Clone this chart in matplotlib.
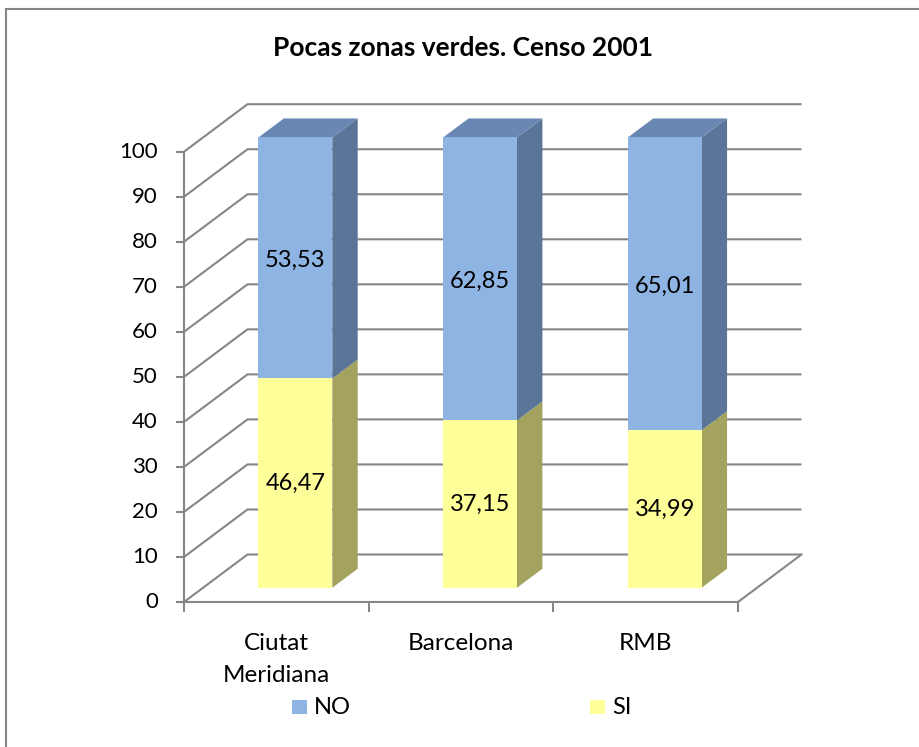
import matplotlib
matplotlib.use("Agg")
import matplotlib.pyplot as plt
from matplotlib.patches import Polygon, Rectangle

plt.rcParams['font.family'] = ['Lato', 'DejaVu Sans']

title = "Pocas zonas verdes. Censo 2001"
categories = ["Ciutat\nMeridiana", "Barcelona", "RMB"]
si_values = [46.47, 37.15, 34.99]
no_values = [53.53, 62.85, 65.01]
y_ticks = [0, 10, 20, 30, 40, 50, 60, 70, 80, 90, 100]
series_names = ["NO", "SI"]

# colours
no_front, no_side, no_top = "#8EB4E3", "#5B7598", "#6A87B3"
si_front, si_side = "#FFFF99", "#A3A35F"
grid_col = "#868686"

W, H = 920, 747
fig = plt.figure(figsize=(W / 100, H / 100), dpi=100)
ax = fig.add_axes([0, 0, 1, 1])
ax.axis("off")

# geometry (pixel layout of the pseudo 3D plot area)
x0_px, x3_px = 184.0, 738.0
y0_px, y100_px = 602.0, 151.7
ppu_x = (x3_px - x0_px) / 3
ppu_y = (y0_px - y100_px) / 100
ax.set_xlim(-x0_px / ppu_x, (W - x0_px) / ppu_x)
ax.set_ylim((y0_px - H) / ppu_y, y0_px / ppu_y)

DU = 63.5 / ppu_x      # full depth offset in x (category units)
DV = 47.5 / ppu_y      # full depth offset in y (value units)
ymax = 100
ncat = len(categories)

def off(x, y, f):
    return (x + f * DU, y + f * DV)

lw = 1.5
# gridlines: left wall diagonal + back wall horizontal
for v in y_ticks:
    p1 = (0, v)
    p2 = off(0, v, 1)
    p3 = off(ncat, v, 1)
    ax.plot([p1[0], p2[0], p3[0]], [p1[1], p2[1], p3[1]], color=grid_col, lw=lw,
            solid_capstyle="butt", zorder=1)
    # y tick marks
    ax.plot([-7 / ppu_x, 0], [v, v], color=grid_col, lw=lw, zorder=1)
    ax.text(-26 / ppu_x, v, str(v), ha="right", va="center", fontsize=16, color="black")

# floor: front edge and right diagonal
fr = off(ncat, 0, 1)
ax.plot([0, ncat, fr[0]], [0, 0, fr[1]], color=grid_col, lw=lw, zorder=1)
# vertical axis
ax.plot([0, 0], [-9 / ppu_y, ymax], color=grid_col, lw=lw, zorder=1)
# category tick marks
for i in range(1, ncat + 1):
    ax.plot([i, i], [0, -9 / ppu_y], color=grid_col, lw=lw, zorder=1)

# bars
f1, f2 = 0.3, 0.7
bw = 0.4
for i, (s, n) in enumerate(zip(si_values, no_values)):
    xl = i + 0.5 - bw / 2
    xr = i + 0.5 + bw / 2
    segs = [(0, s, si_front, si_side), (s, s + n, no_front, no_side)]
    for (b, t, fc, sc) in segs:
        fl = off(xl, b, f1); frb = off(xr, b, f1); frt = off(xr, t, f1); flt = off(xl, t, f1)
        # side face
        bb = off(xr, b, f2); bt = off(xr, t, f2)
        ax.add_patch(Polygon([frb, bb, bt, frt], closed=True, facecolor=sc,
                             edgecolor="none", zorder=3))
        ax.add_patch(Polygon([fl, frb, frt, flt], closed=True, facecolor=fc,
                             edgecolor="none", zorder=4))
    top = s + n
    ax.add_patch(Polygon([off(xl, top, f1), off(xr, top, f1), off(xr, top, f2), off(xl, top, f2)],
                         closed=True, facecolor=no_top, edgecolor="none", zorder=3))
    cx, _ = off(i + 0.5, 0, f1)
    ax.text(cx, s / 2 + f1 * DV, f"{s:.2f}".replace(".", ","), ha="center", va="center",
            fontsize=17, zorder=5)
    ax.text(cx, s + n / 2 + f1 * DV - 0.6, f"{n:.2f}".replace(".", ","), ha="center", va="center",
            fontsize=17, zorder=5)

# category labels
for i, c in enumerate(categories):
    ax.text(i + 0.5, -31 / ppu_y, c, ha="center", va="top", fontsize=17.5, linespacing=1.65)

# title
fig.text(463 / W, 1 - 48 / H, title, ha="center", va="center", fontsize=19, fontweight="bold")

# legend
for (name, col, xs) in [("NO", no_front, 292), ("SI", si_front, 590)]:
    fig.add_artist(Rectangle((xs / W, 1 - 714 / H), 15 / W, 14 / H, transform=fig.transFigure,
                             facecolor=col, edgecolor="none"))
    fig.text((xs + 22) / W, 1 - 708 / H, name, ha="left", va="center", fontsize=17)

# chart border (only top and left edges visible)
fig.add_artist(Rectangle((6.5 / W, -0.1), 1.2, 1 - 8.5 / H + 0.1, transform=fig.transFigure,
                         facecolor="none", edgecolor=grid_col, lw=1.5))

fig.savefig("out.png", dpi=100)
